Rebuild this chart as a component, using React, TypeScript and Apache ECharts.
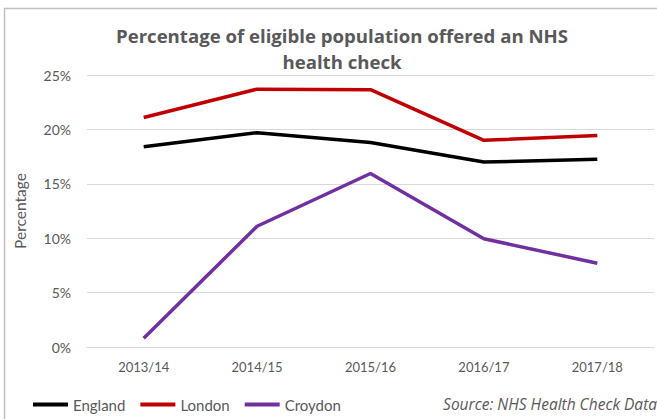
import React, { useEffect, useRef } from "react";
import * as echarts from "echarts";

const categories = ["2013/14", "2014/15", "2015/16", "2016/17", "2017/18"];
const england = [18.4, 19.7, 18.8, 17.0, 17.25];
const london = [21.1, 23.7, 23.65, 19.0, 19.45];
const croydon = [0.8, 11.1, 15.95, 9.95, 7.7];
const yTicks = { min: 0, max: 25, interval: 5 };

const FONT = "Lato";
const GREY = "#595959";

export default function App() {
  const ref = useRef<HTMLDivElement>(null);
  useEffect(() => {
    if (!ref.current) return;
    const chart = echarts.init(ref.current, undefined, { renderer: "svg" });
    const lineSeries = (name: string, data: number[], color: string) => ({
      name,
      type: "line",
      data,
      symbol: "none",
      lineStyle: { color, width: 3.5 },
      itemStyle: { color },
    });
    chart.setOption({
      animation: false,
      backgroundColor: "#ffffff",
      textStyle: { fontFamily: FONT },
      grid: { left: 87, right: 3, top: 75, bottom: 72, containLabel: false },
      xAxis: {
        type: "category",
        data: categories,
        boundaryGap: true,
        axisLine: { show: true, lineStyle: { color: "#d9d9d9", width: 1 } },
        axisTick: { show: false },
        axisLabel: { color: GREY, fontSize: 13, margin: 13, fontFamily: FONT },
      },
      yAxis: {
        type: "value",
        min: yTicks.min,
        max: yTicks.max,
        interval: yTicks.interval,
        name: "Percentage",
        nameLocation: "middle",
        nameRotate: 90,
        nameGap: 59,
        nameTextStyle: { color: GREY, fontSize: 15.5, fontFamily: FONT },
        axisLine: { show: false },
        axisTick: { show: false },
        axisLabel: {
          color: GREY,
          fontSize: 14,
          margin: 16,
          fontFamily: FONT,
          formatter: "{value}%",
        },
        splitLine: { lineStyle: { color: "#d9d9d9", width: 1 } },
      },
      legend: {
        left: 28,
        top: 392,
        icon: "rect",
        itemWidth: 35,
        itemHeight: 4,
        itemGap: 15,
        textStyle: { color: GREY, fontSize: 15, fontFamily: FONT },
        data: ["England", "London", "Croydon"],
      },
      graphic: [
        {
          type: "rect",
          silent: true,
          shape: { x: 4.5, y: 8.5, width: 700, height: 500 },
          style: { fill: "none", stroke: "#bfbfbf", lineWidth: 1.5 },
        },
        {
          type: "text",
          x: 342,
          y: 48,
          style: {
            text: "Percentage of eligible population offered an NHS\nhealth check",
            textAlign: "center",
            textVerticalAlign: "middle",
            fontSize: 18.6,
            fontWeight: "bold",
            fontFamily: "Open Sans",
            fill: GREY,
            lineHeight: 26,
          },
        },
        {
          type: "text",
          x: 657,
          y: 404,
          style: {
            text: "Source: NHS Health Check Data",
            textAlign: "right",
            textVerticalAlign: "middle",
            fontSize: 15.5,
            fontStyle: "italic",
            fontFamily: "Open Sans",
            fill: GREY,
          },
        },
      ],
      series: [
        lineSeries("England", england, "#000000"),
        lineSeries("London", london, "#c00000"),
        lineSeries("Croydon", croydon, "#7030a0"),
      ],
    });
    return () => chart.dispose();
  }, []);
  return (
    <div
      ref={ref}
      style={{ position: "absolute", left: 0, top: 0, width: 657, height: 419 }}
    />
  );
}
